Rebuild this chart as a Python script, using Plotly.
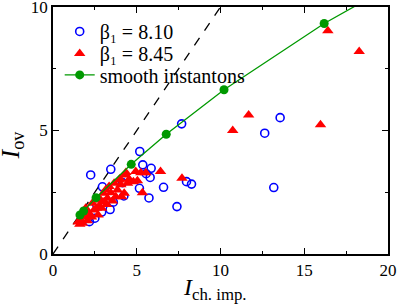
import plotly.graph_objects as go

# beta_1 = 8.10 (open blue circles)
b810_x = [13.56, 12.64, 13.18, 8.27, 7.97, 7.68, 5.18, 5.36, 5.86, 5.56, 5.80, 6.60, 5.16, 5.73,
          7.40, 4.15, 4.23, 2.25, 3.45, 2.95, 3.41, 2.91, 2.50, 2.17, 1.75, 3.00, 3.60, 2.60]
b810_y = [5.52, 4.89, 2.69, 2.83, 2.93, 5.27, 4.15, 3.61, 3.47, 3.25, 3.10, 2.70, 2.66, 2.27,
          1.92, 2.89, 2.35, 3.20, 3.43, 2.72, 1.80, 1.70, 1.45, 1.31, 1.35, 2.30, 2.10, 2.00]

# beta_1 = 8.45 (red triangles)
b845_x = [16.41, 18.28, 15.97, 11.68, 10.73, 7.70, 6.42,
          4.94, 5.24, 5.54, 4.55, 4.80, 5.04, 5.34, 4.45, 4.10, 4.31,
          1.65, 1.85, 2.05, 2.15, 1.95, 2.35, 2.45, 2.69, 2.75, 2.85, 3.01, 3.05, 3.25,
          3.35, 3.45, 3.65, 3.75, 3.85, 4.05, 4.25, 1.50, 1.75, 2.30, 2.55, 2.90, 3.15,
          3.55, 3.95, 4.35, 3.20, 2.60, 2.00, 1.60, 4.00]
b845_y = [9.04, 8.20, 5.23, 5.63, 5.00, 3.07, 3.34,
          3.34, 3.29, 3.29, 3.03, 2.93, 2.97, 2.48, 2.86, 2.32, 3.20,
          1.38, 1.51, 1.35, 1.65, 1.85, 2.05, 1.78, 1.58, 1.94, 2.19, 2.46, 2.12, 2.26,
          2.73, 2.48, 2.86, 2.32, 2.59, 2.80, 2.46, 1.30, 1.25, 1.50, 2.20, 1.85, 2.60,
          2.15, 3.00, 3.30, 2.00, 1.85, 1.50, 1.20, 3.05]

# smooth instantons (green); last point lies beyond the plotted range
smooth_x = [1.61, 1.83, 2.57, 4.67, 6.76, 10.21, 16.19, 19.90]
smooth_y = [1.58, 1.74, 2.28, 3.63, 4.85, 6.65, 9.33, 10.75]

# reference line I_ov = I_ch.imp.
diag_x = [0, 10]
diag_y = [0, 10]

FONT = "Liberation Serif"

fig = go.Figure()
fig.add_trace(go.Scatter(x=diag_x, y=diag_y, mode="lines", showlegend=False,
                         line=dict(color="black", width=1.3, dash="dash")))
fig.add_trace(go.Scatter(x=b810_x, y=b810_y, mode="markers", name="β₁ = 8.10",
                         legend="legend",
                         marker=dict(symbol="circle-open", size=8, color="#0000ff",
                                     line=dict(width=1.6, color="#0000ff"))))
fig.add_trace(go.Scatter(x=b845_x, y=b845_y, mode="markers", name="β₁ = 8.45",
                         legend="legend2",
                         marker=dict(symbol="triangle-up", size=10, color="#ff0000",
                                     line=dict(width=0))))
fig.add_trace(go.Scatter(x=smooth_x, y=smooth_y, mode="lines+markers", name="smooth instantons",
                         legend="legend3",
                         line=dict(color="#009900", width=1.3),
                         marker=dict(symbol="circle", size=9, color="#009900")))


def axis_style():
    return dict(showline=True, linecolor="black", linewidth=1.5, mirror="ticks",
                ticks="inside", ticklen=6, tickwidth=1.3, tickcolor="black",
                showgrid=False, zeroline=False, ticklabeloverflow="allow",
                automargin=False,
                tickfont=dict(family=FONT, size=17, color="black"),
                minor=dict(ticks="inside", ticklen=3, tickwidth=1.3, tickcolor="black", dtick=2.5))


fig.update_xaxes(range=[0, 20], dtick=5, tick0=0, **axis_style())
fig.update_yaxes(range=[0, 10], dtick=5, tick0=0, **axis_style())

fig.add_annotation(text="<i>I</i><sub>ch. imp.</sub>", xref="paper", yref="paper",
                   x=0.484, y=-0.142, xanchor="center", yanchor="middle", showarrow=False,
                   font=dict(family=FONT, size=24, color="black"))
fig.add_annotation(text="<i>I</i><sub>ov</sub>", xref="paper", yref="paper",
                   x=-0.122, y=0.44, xanchor="center", yanchor="middle", showarrow=False,
                   textangle=-90, font=dict(family=FONT, size=26, color="black"))


def legend_style(ypos, anchor):
    return dict(x=0.02, y=ypos, xanchor="left", yanchor=anchor,
                bgcolor="rgba(0,0,0,0)", borderwidth=0,
                font=dict(family=FONT, size=20, color="black"), itemwidth=30)


fig.update_layout(
    width=398, height=308,
    margin=dict(l=53, r=10, t=7, b=54, autoexpand=False),
    plot_bgcolor="white", paper_bgcolor="white",
    font=dict(family=FONT, color="black"),
    legend=legend_style(0.822, "bottom"),
    legend2=legend_style(0.733, "bottom"),
    legend3=legend_style(0.725, "middle"),
)

fig.write_html("out.html", config={"displayModeBar": False},
               post_script="document.body.style.margin='0';")
